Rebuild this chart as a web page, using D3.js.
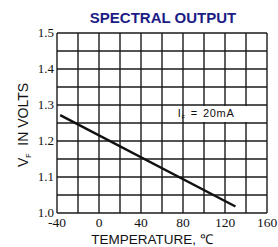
<!DOCTYPE html>
<html>
<head>
<meta charset="utf-8">
<script src="https://cdn.jsdelivr.net/npm/d3@7"></script>
<style>
  body { margin: 0; background: #fff; }
</style>
</head>
<body>
<div id="chart"></div>
<script>
// temperature (C) vs forward voltage
var temps = [-37, 130];
var volts = [1.272, 1.018];
var xTicks = [-40, 0, 40, 80, 120, 160];
var yTicks = [1.0, 1.1, 1.2, 1.3, 1.4, 1.5];

var width = 278, height = 247;
var margin = { top: 33, right: 11, bottom: 34, left: 57 };

var svg = d3.select("#chart")
    .append("svg")
    .attr("width", width)
    .attr("height", height);

var x = d3.scaleLinear()
    .domain([-40, 160])
    .range([margin.left, width - margin.right]);

var y = d3.scaleLinear()
    .domain([1.0, 1.5])
    .range([height - margin.bottom, margin.top]);

// grid
svg.append("g")
    .selectAll("line")
    .data(d3.range(-40, 161, 20))
    .enter()
    .append("line")
    .attr("x1", function (d) { return x(d) })
    .attr("x2", function (d) { return x(d) })
    .attr("y1", y(1.0))
    .attr("y2", y(1.5))
    .attr("stroke", "#1a1a1a")
    .attr("stroke-width", 1.4);

svg.append("g")
    .selectAll("line")
    .data(d3.range(0, 11).map(function (i) { return 1.0 + i * 0.05 }))
    .enter()
    .append("line")
    .attr("x1", x(-40))
    .attr("x2", x(160))
    .attr("y1", function (d) { return y(d) })
    .attr("y2", function (d) { return y(d) })
    .attr("stroke", "#1a1a1a")
    .attr("stroke-width", 1.4);

// white box for the condition label
svg.append("rect")
    .attr("x", x(80) + 1)
    .attr("y", y(1.3) + 1)
    .attr("width", x(160) - x(80) - 2.5)
    .attr("height", y(1.25) - y(1.3) - 2)
    .attr("fill", "#fff");

var lbl = svg.append("text")
    .attr("x", x(102))
    .attr("y", y(1.3) + 12)
    .attr("text-anchor", "middle")
    .style("font-family", "Arial, 'Liberation Sans', sans-serif")
    .style("font-size", "11px")
    .style("letter-spacing", "0.7px")
    .attr("fill", "#111");
lbl.append("tspan").text("I");
lbl.append("tspan").attr("font-size", "6px").attr("dy", 2).text("F");
lbl.append("tspan").attr("dy", -2).attr("dx", 5).text("=");
lbl.append("tspan").attr("dx", 5).text("20mA");

// data line
svg.append("path")
    .datum(temps.map(function (t, i) { return [t, volts[i]] }))
    .attr("fill", "none")
    .attr("stroke", "#111")
    .attr("stroke-width", 2.4)
    .attr("d", d3.line()
        .x(function (d) { return x(d[0]) })
        .y(function (d) { return y(d[1]) }));

// tick labels
svg.append("g")
    .selectAll("text")
    .data(yTicks)
    .enter()
    .append("text")
    .attr("x", margin.left - 3)
    .attr("y", function (d) { return y(d) + 4 })
    .attr("text-anchor", "end")
    .style("font-family", "'Liberation Serif', 'Times New Roman', serif")
    .style("font-size", "13px")
    .attr("fill", "#111")
    .text(function (d) { return d.toFixed(1) });

svg.append("g")
    .selectAll("text")
    .data(xTicks)
    .enter()
    .append("text")
    .attr("x", function (d) { return x(d) })
    .attr("y", y(1.0) + 14)
    .attr("text-anchor", "middle")
    .style("font-family", "'Liberation Serif', 'Times New Roman', serif")
    .style("font-size", "13.5px")
    .attr("fill", "#111")
    .text(function (d) { return d });

// title
svg.append("text")
    .attr("x", 163)
    .attr("y", 23)
    .attr("text-anchor", "middle")
    .style("font-family", "Arial, 'Liberation Sans', sans-serif")
    .style("font-size", "15px")
    .style("font-weight", "bold")
    .attr("fill", "#1c1c86")
    .text("SPECTRAL OUTPUT");

// axis titles
svg.append("text")
    .attr("x", 152)
    .attr("y", 244)
    .attr("text-anchor", "middle")
    .style("font-family", "Arial, 'Liberation Sans', sans-serif")
    .style("font-size", "13.5px")
    .attr("fill", "#111")
    .text("TEMPERATURE, \u2103");

var yl = svg.append("text")
    .attr("transform", "translate(28,125) rotate(-90)")
    .attr("text-anchor", "middle")
    .attr("xml:space", "preserve")
    .style("font-family", "Arial, 'Liberation Sans', sans-serif")
    .style("font-size", "14px")
    .attr("fill", "#111");
yl.append("tspan").text("V");
yl.append("tspan").attr("font-size", "7px").attr("dy", 3).text("F");
yl.append("tspan").attr("dy", -3).text("  IN VOLTS");
</script>
</body>
</html>
